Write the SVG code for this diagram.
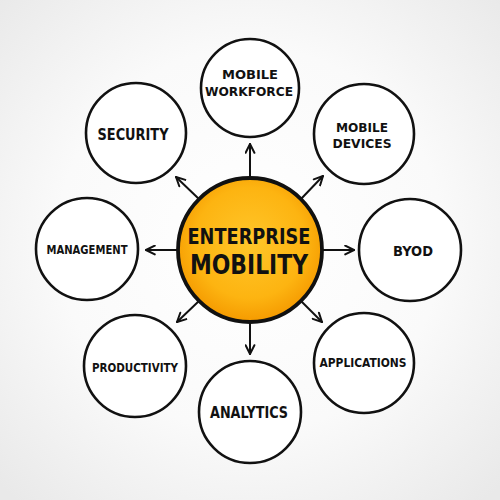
<svg xmlns="http://www.w3.org/2000/svg" width="500" height="500" viewBox="0 0 500 500">
  <defs>
    <radialGradient id="bg" cx="50%" cy="48%" r="70%">
      <stop offset="0" stop-color="#ffffff"/>
      <stop offset="0.55" stop-color="#fafafa"/>
      <stop offset="1" stop-color="#e9e9e9"/>
    </radialGradient>
    <radialGradient id="core" cx="50%" cy="45%" r="55%">
      <stop offset="0" stop-color="#ffc62a"/>
      <stop offset="0.7" stop-color="#fdb411"/>
      <stop offset="1" stop-color="#f59a00"/>
    </radialGradient>
    <marker id="arr" viewBox="0 0 10 10" refX="9" refY="5" markerWidth="11" markerHeight="11" markerUnits="userSpaceOnUse" orient="auto">
      <path d="M1,1 L9,5 L1,9" fill="none" stroke="#111" stroke-width="1.8" stroke-linecap="round" stroke-linejoin="round"/>
    </marker>
    <style>
      .ring { fill: #ffffff; stroke: #111; stroke-width: 2.6; }
      .lbl { font-family: "DejaVu Sans Condensed", "DejaVu Sans", sans-serif; font-weight: bold; fill: #111; text-anchor: middle; }
      .conn line { stroke: #111; stroke-width: 2; stroke-linecap: round; marker-end: url(#arr); }
    </style>
  </defs>
  <rect width="500" height="500" fill="url(#bg)"/>

  <g id="connectors" class="conn">
    <line x1="250" y1="180" x2="250" y2="144"/>
    <line x1="300" y1="200" x2="323" y2="176"/>
    <line x1="320" y1="250" x2="354" y2="250"/>
    <line x1="300" y1="300" x2="322" y2="322"/>
    <line x1="250" y1="320" x2="250" y2="354"/>
    <line x1="200" y1="300" x2="177" y2="322"/>
    <line x1="180" y1="250" x2="146" y2="250"/>
    <line x1="200" y1="200" x2="176" y2="177"/>
  </g>

  <g id="enterprise-mobility">
    <circle cx="250" cy="250" r="72" fill="url(#core)" stroke="#111" stroke-width="3.8"/>
    <text class="lbl" x="249" y="244" font-size="21" textLength="123" lengthAdjust="spacingAndGlyphs">ENTERPRISE</text>
    <text class="lbl" x="249" y="274" font-size="26" textLength="118" lengthAdjust="spacingAndGlyphs">MOBILITY</text>
  </g>

  <g id="mobile-workforce">
    <circle class="ring" cx="250" cy="88" r="49"/>
    <text class="lbl" x="250" y="79" font-size="13" textLength="56" lengthAdjust="spacingAndGlyphs">MOBILE</text>
    <text class="lbl" x="249" y="96" font-size="13" textLength="88" lengthAdjust="spacingAndGlyphs">WORKFORCE</text>
  </g>

  <g id="mobile-devices">
    <circle class="ring" cx="364" cy="134" r="50"/>
    <text class="lbl" x="362" y="132" font-size="13" textLength="52" lengthAdjust="spacingAndGlyphs">MOBILE</text>
    <text class="lbl" x="362" y="148" font-size="13" textLength="59" lengthAdjust="spacingAndGlyphs">DEVICES</text>
  </g>

  <g id="byod">
    <circle class="ring" cx="410" cy="250" r="51"/>
    <text class="lbl" x="413" y="256" font-size="14" textLength="40" lengthAdjust="spacingAndGlyphs">BYOD</text>
  </g>

  <g id="applications">
    <circle class="ring" cx="364" cy="363" r="50"/>
    <text class="lbl" x="363" y="367" font-size="13" textLength="87" lengthAdjust="spacingAndGlyphs">APPLICATIONS</text>
  </g>

  <g id="analytics">
    <circle class="ring" cx="250" cy="412" r="51"/>
    <text class="lbl" x="249" y="418" font-size="15" textLength="78" lengthAdjust="spacingAndGlyphs">ANALYTICS</text>
  </g>

  <g id="productivity">
    <circle class="ring" cx="135" cy="366" r="51"/>
    <text class="lbl" x="135" y="372" font-size="13" textLength="86" lengthAdjust="spacingAndGlyphs">PRODUCTIVITY</text>
  </g>

  <g id="management">
    <circle class="ring" cx="87" cy="249" r="51"/>
    <text class="lbl" x="87" y="254" font-size="13" textLength="81" lengthAdjust="spacingAndGlyphs">MANAGEMENT</text>
  </g>

  <g id="security">
    <circle class="ring" cx="136" cy="133" r="50"/>
    <text class="lbl" x="133" y="140" font-size="15" textLength="71" lengthAdjust="spacingAndGlyphs">SECURITY</text>
  </g>
</svg>
